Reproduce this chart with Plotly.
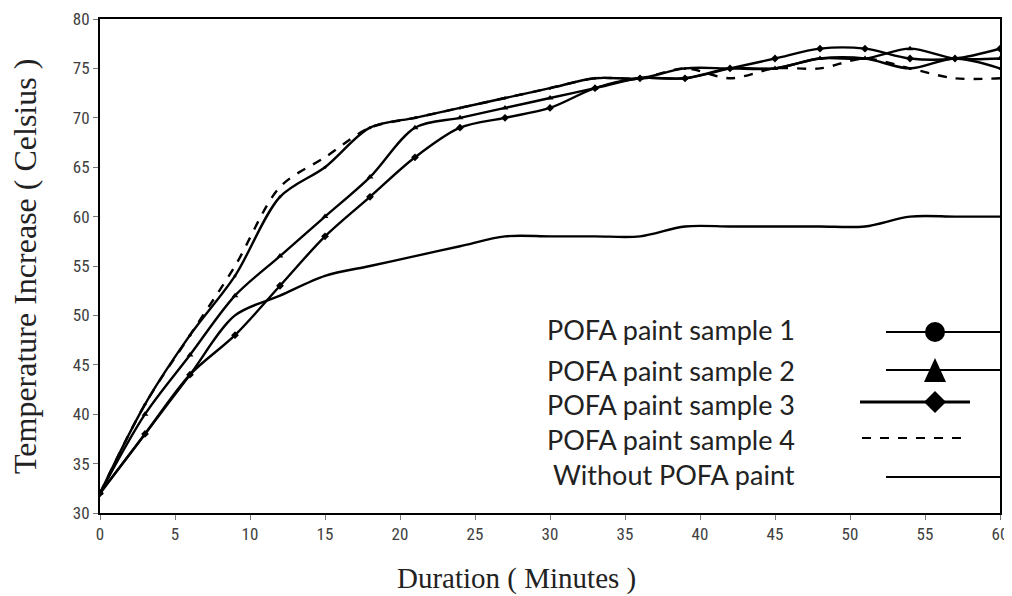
import plotly.graph_objects as go

minutes = [0, 3, 6, 9, 12, 15, 18, 21, 24, 27, 30, 33, 36, 39, 42, 45, 48, 51, 54, 57, 60]
sample1 = [32, 41, 48, 54, 62, 65, 69, 70, 71, 72, 73, 74, 74, 75, 75, 75, 76, 76, 75, 76, 75]
sample2 = [32, 40, 46, 52, 56, 60, 64, 69, 70, 71, 72, 73, 74, 74, 75, 75, 76, 76, 77, 76, 76]
sample3 = [32, 38, 44, 48, 53, 58, 62, 66, 69, 70, 71, 73, 74, 74, 75, 76, 77, 77, 76, 76, 77]
sample4 = [32, 41, 48, 55, 63, 66, 69, 70, 71, 72, 73, 74, 74, 75, 74, 75, 75, 76, 75, 74, 74]
without = [32, 38, 44, 50, 52, 54, 55, 56, 57, 58, 58, 58, 58, 59, 59, 59, 59, 59, 60, 60, 60]

legend_names = ["POFA paint sample 1", "POFA paint sample 2", "POFA paint sample 3",
                "POFA paint sample 4", "Without POFA paint"]
x_title = "Duration ( Minutes )"
y_title = "Temperature Increase ( Celsius )"

fig = go.Figure()
line_style = dict(color="black", width=2.4, shape="spline", smoothing=0.9)

fig.add_trace(go.Scatter(x=minutes, y=without, mode="lines", line=line_style, name=legend_names[4]))
fig.add_trace(go.Scatter(x=minutes, y=sample4, mode="lines",
                         line=dict(color="black", width=2.4, dash="dash", shape="spline", smoothing=0.9),
                         name=legend_names[3]))
fig.add_trace(go.Scatter(x=minutes, y=sample3, mode="lines+markers", line=line_style,
                         marker=dict(symbol="diamond", size=6, color="black"), name=legend_names[2]))
fig.add_trace(go.Scatter(x=minutes, y=sample2, mode="lines+markers", line=line_style,
                         marker=dict(symbol="triangle-up", size=6, color="black"), name=legend_names[1]))
fig.add_trace(go.Scatter(x=minutes, y=sample1, mode="lines+markers", line=line_style,
                         marker=dict(symbol="circle", size=3, color="black"), name=legend_names[0]))

# page body has an 8px margin; target plot area in screenshot pixels: x 100..1000, y 19..513
OFF = 8
W, H = 1012 - OFF, 596 - OFF
L, R, T, B = 100, 1000, 19, 513
def px(x):
    return (x - L) / (R - L)
def py(y):
    return (B - y) / (B - T)

shapes = []
annotations = []
rows = [
    (332, 886, 1000, "solid", "circle"),
    (370, 886, 1000, "solid", "triangle"),
    (402, 860, 970, "solid", "diamond"),
    (438, 862, 968, "dash", None),
    (477, 886, 1000, "solid", None),
]
text_y = [329, 370, 405, 439, 474]
for i, (yy, x0, x1, dash, mk) in enumerate(rows):
    shapes.append(dict(type="line", xref="paper", yref="paper", x0=px(x0), x1=px(x1), y0=py(yy), y1=py(yy),
                       line=dict(color="black", width=2.2 if i != 2 else 3, dash=dash)))
    cx = 935
    if mk == "circle":
        shapes.append(dict(type="circle", xref="paper", yref="paper", x0=px(cx - 10), x1=px(cx + 10),
                           y0=py(yy + 10), y1=py(yy - 10), fillcolor="black", line=dict(color="black", width=0)))
    elif mk == "triangle":
        path = f"M {px(cx)} {py(yy - 12)} L {px(cx + 11)} {py(yy + 12)} L {px(cx - 11)} {py(yy + 12)} Z"
        shapes.append(dict(type="path", xref="paper", yref="paper", path=path, fillcolor="black",
                           line=dict(color="black", width=0)))
    elif mk == "diamond":
        path = f"M {px(cx)} {py(yy - 11)} L {px(cx + 11)} {py(yy)} L {px(cx)} {py(yy + 11)} L {px(cx - 11)} {py(yy)} Z"
        shapes.append(dict(type="path", xref="paper", yref="paper", path=path, fillcolor="black",
                           line=dict(color="black", width=0)))
    annotations.append(dict(text=legend_names[i], xref="paper", yref="paper", x=px(797), y=py(text_y[i]),
                            xanchor="right", yanchor="middle", showarrow=False,
                            font=dict(family="Lato, Open Sans, sans-serif", size=27, color="#222")))

serif = "Liberation Serif, Times New Roman, serif"
annotations.append(dict(text=x_title, xref="paper", yref="paper", x=px(516), y=py(578),
                        xanchor="center", yanchor="middle", showarrow=False,
                        font=dict(family=serif, size=29, color="#222")))
annotations.append(dict(text=y_title, xref="paper", yref="paper", x=px(25), y=py(267), textangle=-90,
                        xanchor="center", yanchor="middle", showarrow=False,
                        font=dict(family=serif, size=32, color="#222")))

tick_font = dict(family="Liberation Sans Narrow, Roboto Condensed, Roboto, sans-serif", size=17, color="#404040")
fig.update_layout(
    width=W, height=H,
    margin=dict(l=L - OFF, r=W - (R - OFF), t=T - OFF, b=H - (B - OFF), autoexpand=False),
    plot_bgcolor="white", paper_bgcolor="white",
    showlegend=False,
    shapes=shapes, annotations=annotations,
    xaxis=dict(range=[0, 60], tickvals=list(range(0, 61, 5)), showgrid=False, zeroline=False,
               showline=True, linecolor="black", linewidth=2, mirror=True, automargin=False,
               ticklabeloverflow="allow",
               ticks="outside", ticklen=5, tickcolor="#777", tickfont=tick_font),
    yaxis=dict(range=[30, 80], tickvals=list(range(30, 81, 5)), showgrid=False, zeroline=False,
               showline=True, linecolor="black", linewidth=2, mirror=True, automargin=False,
               ticklabeloverflow="allow",
               ticks="outside", ticklen=5, tickcolor="#777", tickfont=tick_font),
)

fig.write_html("out.html")
